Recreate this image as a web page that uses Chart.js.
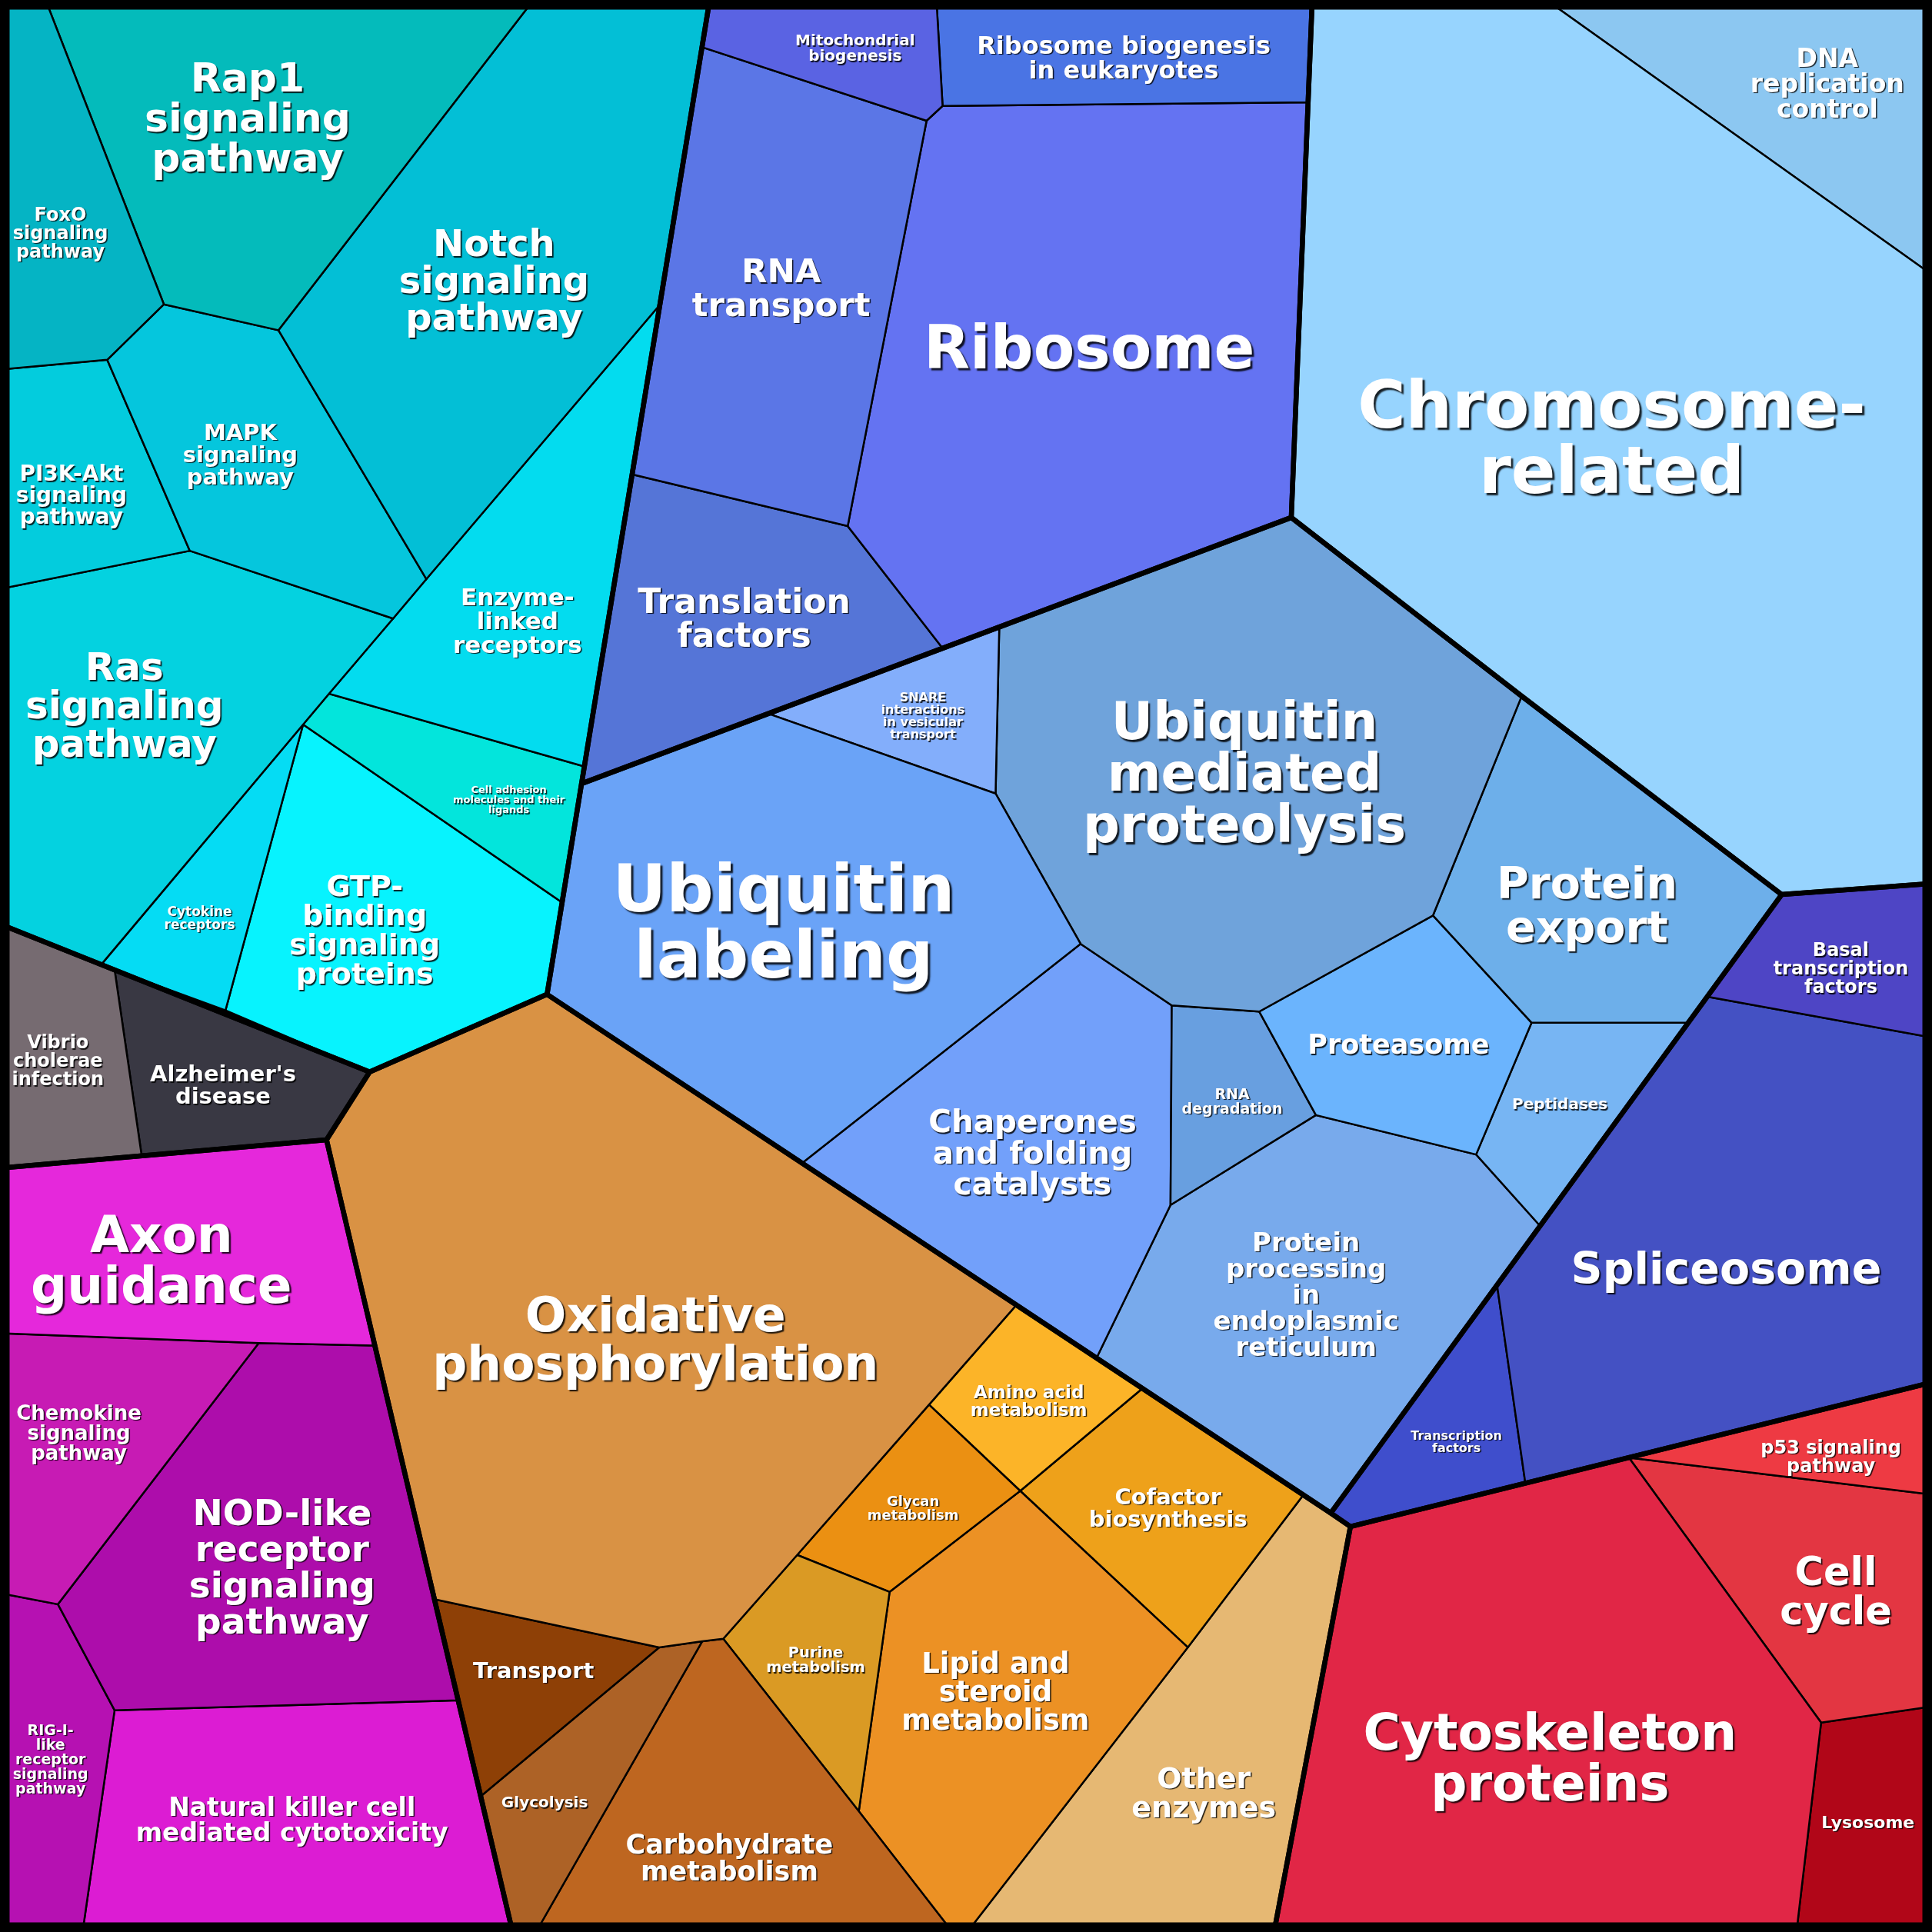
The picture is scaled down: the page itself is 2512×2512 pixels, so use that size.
<!DOCTYPE html>
<html>
<head>
<meta charset="utf-8">
<title>Pathway treemap</title>
<script src="https://cdn.jsdelivr.net/npm/chart.js@4.4.0/dist/chart.umd.min.js"></script>
<style>
html, body { margin: 0; padding: 0; background: #000; }
#wrap { width: 2512px; height: 2512px; }
</style>
</head>
<body>
<div id="wrap"><canvas id="treemap" width="2512" height="2512"></canvas></div>
<script>
// corner points of the cells, in map units (0..1568, y down)
var corners = {
	TL: [0, 0], TR: [1568, 0], BR: [1568, 1568], BL: [0, 1568],
	s1: [37, 0], s2: [433, 0], s3: [576, 0], s4: [133, 247], s5: [226, 268],
	s6: [87, 292], s7: [0, 300], s8: [535, 248], s9: [346, 470], s10: [319, 502],
	s11: [154, 447], s12: [0, 478], s13: [267, 563], s14: [246, 588], s15: [474, 622],
	s16: [457, 733], s17: [444, 807], s18: [300, 870], s19: [183, 820], s20: [82, 783],
	s21: [0, 750],
	i1: [93, 787], i2: [265, 925], i3: [115, 938], i4: [0, 948],
	m1: [304, 1092], m2: [210, 1090], m3: [0, 1082], m4: [47, 1302], m5: [0, 1293],
	m6: [93, 1388], m7: [372, 1380], m8: [67, 1568], m9: [416, 1568],
	o2: [825, 1059], o3: [651, 944], o4: [890, 1102], o5: [927, 1127], o6: [1058, 1213],
	o7: [1080, 1228], o8: [1096, 1239], o9: [754, 1140], o10: [647, 1262], o11: [587, 1330],
	o12: [570, 1332], o13: [535, 1337], o14: [353, 1298], o15: [390, 1458], o16: [435, 1568],
	o17: [773, 1568], o18: [697, 1470], o19: [722, 1292], o20: [828, 1210], o21: [964, 1337],
	o22: [785, 1568], o23: [1034, 1568],
	f1: [472, 636], f2: [623, 579], f3: [765, 526], f4: [811, 509], f5: [1048, 420],
	f6: [808, 644], f7: [877, 766], f8: [951, 816], f9: [1022, 821], f10: [1163, 743],
	f11: [1235, 565], f12: [1446, 726], f13: [1243, 830], f14: [1370, 830], f15: [1198, 937],
	f16: [1068, 905], f17: [950, 978], f18: [1250, 995], f19: [1215, 1043],
	t1: [1386, 809], t2: [1568, 717], t3: [1568, 842], t4: [1568, 1122], t5: [1238, 1204],
	r1: [1322, 1183], r2: [1568, 1213], r3: [1478, 1398], r4: [1568, 1385], r5: [1458, 1568],
	c1: [1065, 0], c2: [1255, 0], c3: [1568, 223],
	g1: [760, 0], g2: [765, 86], g3: [752, 98], g4: [1062, 83], g5: [569, 38],
	g6: [688, 427], g7: [513, 385]
};

var cellNames = [
	"FoxO\nsignaling\npathway", "Rap1\nsignaling\npathway", "Notch\nsignaling\npathway",
	"MAPK\nsignaling\npathway", "PI3K-Akt\nsignaling\npathway", "Ras\nsignaling\npathway",
	"Enzyme-\nlinked\nreceptors", "Cell adhesion\nmolecules and their\nligands", "Cytokine\nreceptors",
	"GTP-\nbinding\nsignaling\nproteins",
	"Vibrio\ncholerae\ninfection", "Alzheimer's\ndisease",
	"Axon\nguidance", "Chemokine\nsignaling\npathway", "NOD-like\nreceptor\nsignaling\npathway",
	"RIG-I-\nlike\nreceptor\nsignaling\npathway", "Natural killer cell\nmediated cytotoxicity",
	"Oxidative\nphosphorylation", "Transport", "Glycolysis", "Carbohydrate\nmetabolism",
	"Purine\nmetabolism", "Glycan\nmetabolism", "Amino acid\nmetabolism",
	"Lipid and\nsteroid\nmetabolism", "Cofactor\nbiosynthesis", "Other\nenzymes",
	"Cytoskeleton\nproteins", "p53 signaling\npathway", "Cell\ncycle", "Lysosome",
	"Basal\ntranscription\nfactors", "Spliceosome", "Transcription\nfactors",
	"Ubiquitin\nlabeling", "SNARE\ninteractions\nin vesicular\ntransport",
	"Ubiquitin\nmediated\nproteolysis", "Protein\nexport", "Proteasome", "Peptidases",
	"RNA\ndegradation", "Chaperones\nand folding\ncatalysts",
	"Protein\nprocessing\nin\nendoplasmic\nreticulum",
	"Chromosome-\nrelated", "DNA\nreplication\ncontrol",
	"Mitochondrial\nbiogenesis", "Ribosome biogenesis\nin eukaryotes", "RNA\ntransport",
	"Ribosome", "Translation\nfactors"
];

var cellOutlines = [
	"TL s1 s4 s6 s7", "s1 s2 s5 s4", "s2 s3 s8 s9 s5",
	"s6 s4 s5 s9 s10 s11", "s7 s6 s11 s12", "s12 s11 s10 s13 s14 s20 s21",
	"s8 s15 s13 s10 s9", "s13 s15 s16 s14", "s14 s19 s20",
	"s14 s16 s17 s18 s19",
	"s21 i1 i3 i4", "i1 s18 i2 i3",
	"i4 i2 m1 m2 m3", "m3 m2 m4 m5", "m2 m1 m7 m6 m4",
	"m5 m4 m6 m8 BL", "m6 m7 m9 m8",
	"i2 s18 s17 o3 o2 o9 o10 o11 o12 o13 o14", "o14 o13 o15", "o15 o13 o12 o16 m9",
	"o12 o11 o18 o17 o16",
	"o11 o10 o19 o18", "o10 o9 o20 o19", "o9 o2 o5 o20",
	"o19 o20 o21 o22 o17 o18", "o20 o5 o6 o21", "o21 o6 o7 o8 o23 o22",
	"o8 r1 r3 r5 o23", "r1 t4 r2", "r1 r2 r4 r3", "r3 r4 BR r5",
	"t1 f12 t2 t3", "t1 t3 t4 t5 f19", "f19 t5 o8 o7",
	"f1 f2 f6 f7 o3 s17", "f2 f4 f6",
	"f4 f5 f11 f10 f9 f8 f7 f6", "f11 f12 f14 f13 f10", "f10 f13 f15 f16 f9", "f13 f14 f18 f15",
	"f8 f9 f16 f17", "f7 f8 f17 o4 o3",
	"f17 f16 f15 f18 f19 o7 o4",
	"c1 c2 c3 t2 f12 f11 f5 g4", "c2 TR c3",
	"s3 g1 g2 g3 g5", "g1 c1 g4 g2", "g5 g3 g6 g7",
	"g3 g2 g4 f5 f4 f3 g6", "g7 g6 f3 f2 f1"
];

// top level groups (thick borders)
var groupOutlines = [
	"TL s3 s17 s18 s21",
	"s21 s18 i2 i4",
	"i4 i2 m9 BL",
	"i2 s18 s17 o7 o8 o23 m9",
	"o8 t4 BR o23",
	"f12 t2 t4 o8 o7",
	"f1 f5 f11 f12 o7 s17",
	"c1 TR t2 f12 f11 f5",
	"s3 c1 f5 f1"
];

var cellColors = [
	'#05B4C4', '#04BBBB', '#03BFD6', '#05C6DD', '#03CCDD', '#04D2E0',
	'#03DCEF', '#03E5DC', '#05DCF4', '#07F3FE',
	'#766B71', '#393843',
	'#E528DB', '#C71BB4', '#AD0DAB', '#B611B2', '#DC1CD3',
	'#D99244', '#8E4006', '#AD6226', '#BE6620', '#DA9A24', '#EB9012', '#FCB428',
	'#EC9124', '#EEA11A', '#E6B873',
	'#E12646', '#EE3A43', '#E33642', '#B10618',
	'#4E45C5', '#4451C3', '#3F4ECC',
	'#6AA3F7', '#83AEFB', '#6FA3DB', '#6DAFEA', '#6BB4FD', '#77B5F3',
	'#689FE0', '#72A0FA', '#78AAEC',
	'#97D4FE', '#8CC7F1',
	'#5A63E3', '#4A74E4', '#5B76E6', '#6473F2', '#5575D7'
];

// label anchor (map units) and font size (px)
var labelSpots = [
	[49, 189], [201, 96], [401, 228], [195, 369], [58, 402], [101, 573],
	[420, 504], [413, 649], [162, 745], [296, 755],
	[47, 861], [181, 881],
	[131, 1023], [64, 1163], [229, 1272], [41, 1428], [237, 1477],
	[532, 1087], [433, 1356], [442, 1463], [592, 1508], [662, 1347], [741, 1224], [835, 1137],
	[808, 1373], [948, 1224], [977, 1455],
	[1258, 1427], [1486, 1182], [1490, 1292], [1516, 1479],
	[1494, 786], [1401, 1030], [1182, 1170],
	[636, 749], [749, 581], [1010, 628], [1288, 735], [1135, 848], [1266, 896],
	[1000, 894], [838, 936], [1060, 1051],
	[1308, 356], [1483, 68],
	[694, 39], [912, 47], [634, 234], [884, 283], [604, 502]
];
var labelSizes = [
	24, 52, 48, 29, 28, 50,
	31, 13, 17, 38,
	24, 29,
	66, 26, 47, 19, 33,
	63, 29, 20, 35, 19.5, 18, 23,
	37, 29, 38,
	66, 24, 51, 22,
	24, 57, 16,
	86, 16, 67, 57, 35, 20,
	19, 40.5, 34,
	85, 33,
	20, 32, 43.5, 78, 44
];

function toPoints(outline) {
	var pts = outline.split(' ').map(function(key) {
		return { x: corners[key][0], y: corners[key][1] };
	});
	pts.push(pts[0]);
	return pts;
}

var labelPlugin = {
	id: 'cellLabels',
	afterDatasetsDraw: function(chart) {
		var ctx = chart.ctx;
		var xs = chart.scales.x, ys = chart.scales.y;
		ctx.save();
		ctx.textAlign = 'center';
		ctx.textBaseline = 'middle';
		cellNames.forEach(function(name, i) {
			var lines = name.split('\n');
			var size = labelSizes[i];
			var cx = xs.getPixelForValue(labelSpots[i][0]);
			var cy = ys.getPixelForValue(labelSpots[i][1]) + size * 0.07;
			var off = Math.max(1.5, size * 0.035);
			ctx.font = 'bold ' + size + 'px "DejaVu Sans"';
			ctx.fillStyle = '#ffffff';
			ctx.shadowColor = 'rgba(0,0,0,0.85)';
			ctx.shadowOffsetX = off;
			ctx.shadowOffsetY = off;
			ctx.shadowBlur = off * 0.6;
			lines.forEach(function(line, k) {
				var y = cy + (k - (lines.length - 1) / 2) * size;
				ctx.fillText(line, cx, y);
			});
		});
		ctx.restore();
	}
};

var datasets = [];
cellOutlines.forEach(function(outline, i) {
	datasets.push({
		label: cellNames[i].replace(/\n/g, ' '),
		data: toPoints(outline),
		showLine: true,
		fill: 'shape',
		backgroundColor: cellColors[i],
		borderColor: '#000000',
		borderWidth: 2.5,
		pointRadius: 0,
		tension: 0,
		order: 3
	});
});
groupOutlines.forEach(function(outline) {
	datasets.push({
		data: toPoints(outline),
		showLine: true,
		fill: false,
		borderColor: '#000000',
		borderWidth: 6.5,
		borderJoinStyle: 'round',
		pointRadius: 0,
		tension: 0,
		order: 2
	});
});
datasets.push({
	data: toPoints('TL TR BR BL'),
	showLine: true,
	fill: false,
	borderColor: '#000000',
	borderWidth: 25,
	pointRadius: 0,
	order: 1
});

new Chart(document.getElementById('treemap'), {
	type: 'scatter',
	data: { datasets: datasets },
	options: {
		responsive: false,
		animation: false,
		events: [],
		layout: { padding: 0 },
		scales: {
			x: { type: 'linear', min: 0, max: 1568, display: false },
			y: { type: 'linear', min: 0, max: 1568, reverse: true, display: false }
		},
		plugins: {
			legend: { display: false },
			tooltip: { enabled: false }
		}
	},
	plugins: [labelPlugin]
});
</script>
</body>
</html>
